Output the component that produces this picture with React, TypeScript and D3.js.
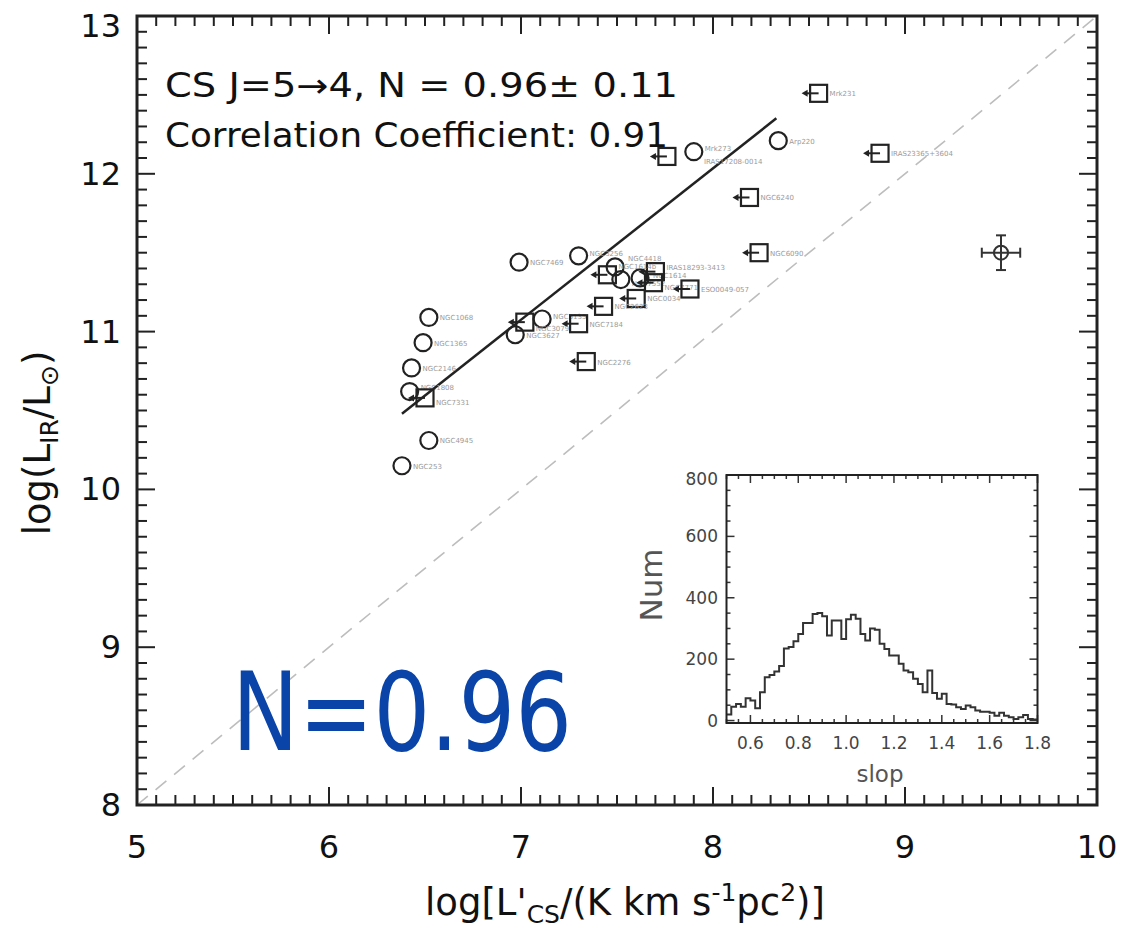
import React from "react";
import * as d3 from "d3";

// ---------------- data ----------------
const circleNames = ["NGC253", "NGC4945", "NGC1808", "NGC2146", "NGC1365", "NGC1068", "NGC7469", "NGC3256", "NGC3627", "NGC5135", "NGC4418", "NGC7552", "NGC1614", "Mrk273", "Arp220"];
const circleX = [6.38, 6.52, 6.42, 6.43, 6.49, 6.52, 6.99, 7.30, 6.97, 7.11, 7.49, 7.52, 7.62, 7.90, 8.34];
const circleY = [10.15, 10.31, 10.62, 10.77, 10.93, 11.09, 11.44, 11.48, 10.98, 11.08, 11.41, 11.33, 11.34, 12.14, 12.21];

const limitNames = ["Mrk231", "IRAS17208-0014", "IRAS23365+3604", "NGC6240", "NGC6090", "IRAS18293-3413", "NGC7771", "ESO0049-057", "NGC0034", "NGC2623", "NGC7184", "NGC3079", "NGC2276", "NGC7331", "NGC1614b"];
const limitX = [8.55, 7.76, 8.87, 8.19, 8.24, 7.70, 7.69, 7.88, 7.60, 7.43, 7.30, 7.02, 7.34, 6.50, 7.45];
const limitY = [12.51, 12.11, 12.13, 11.85, 11.50, 11.38, 11.31, 11.27, 11.21, 11.16, 11.05, 11.06, 10.81, 10.58, 11.36];

const errPointX = [9.5];
const errPointY = [11.5];
const errPointDX = [0.1];
const errPointDY = [0.11];

const fitSlope = 0.96;
const fitIntercept = 4.355;
const fitRange = [6.38, 8.33];

const xTicks = [5, 6, 7, 8, 9, 10];
const yTicks = [8, 9, 10, 11, 12, 13];

const histStart = 0.5;
const histBinWidth = 0.02;
const histCounts = [20, 45, 54, 45, 73, 65, 40, 92, 141, 148, 160, 178, 235, 240, 258, 282, 318, 318, 347, 350, 340, 277, 326, 326, 266, 330, 345, 332, 282, 261, 300, 296, 250, 233, 212, 212, 185, 163, 157, 136, 119, 92, 163, 90, 71, 87, 54, 52, 43, 38, 49, 43, 33, 29, 29, 25, 16, 25, 16, 11, 5, 11, 18, 5, 3];
const insetXTicks = [0.6, 0.8, 1.0, 1.2, 1.4, 1.6, 1.8];
const insetYTicks = [0, 200, 400, 600, 800];

// ---------------- layout ----------------
const W = 1129, H = 930;
const L = 137, R = 1097, T = 16, B = 805;
const IL = 726.5, IR = 1037.5, IT = 475, IB = 723;
const FONT = "'DejaVu Sans', 'Liberation Sans', sans-serif";
// label nudges (pixels) for crowded point labels
const labelNudge: Record<string, [number, number]> = {
  "Mrk273": [0, -4],
  "IRAS17208-0014": [26, 5],
  "NGC4418": [2, -9],
  "NGC7552": [0, 3],
  "NGC1614": [2, -3],
  "IRAS18293-3413": [0, -5],
  "NGC7771": [0, 4],
  "NGC1614b": [0, -9],
  "NGC5135": [0, -3],
  "NGC3079": [0, 6],
  "NGC1808": [0, -5],
  "NGC7331": [0, 4],
  "NGC3256": [0, -3],
};

export default function App() {
  const x = d3.scaleLinear().domain([5, 10]).range([L, R]);
  const y = d3.scaleLinear().domain([8, 13]).range([B, T]);
  const ix = d3.scaleLinear().domain([0.5, 1.8]).range([IL, IR]);
  const iy = d3.scaleLinear().domain([-8, 800]).range([IB, IT]);

  const minorX = d3.range(50, 101).map((v) => v / 10);
  const minorY = d3.range(80, 131).map((v) => v / 10);

  const histPts: [number, number][] = histCounts.map((c, i) => [histStart + i * histBinWidth, c]);
  histPts.push([histStart + histCounts.length * histBinWidth, histCounts[histCounts.length - 1]]);
  const histLine = d3.line<[number, number]>().x((d) => ix(d[0])).y((d) => iy(d[1])).curve(d3.curveStepAfter);

  const insetMinorX = d3.range(10, 37).map((v) => v / 20);
  const insetMinorY = d3.range(0, 17).map((v) => v * 50);

  const fitLine = d3.line<number>().x((d) => x(d)).y((d) => y(fitSlope * d + fitIntercept));

  const nudge = (n: string): [number, number] => labelNudge[n] || [0, 0];
  const axisColor = "#222";
  return (
    <svg width={W} height={H} style={{ position: "absolute", left: 0, top: 0, background: "#fff" }} fontFamily={FONT}>
      <rect x={0} y={0} width={W} height={H} fill="#fff" />
      {/* 1:1 dashed line */}
      <line x1={x(5)} y1={y(8)} x2={x(10)} y2={y(13)} stroke="#bdbdbd" strokeWidth={1.6} strokeDasharray="14,10" />

      {/* minor/major ticks main */}
      {minorX.map((v, i) => {
        const major = Math.abs(v - Math.round(v)) < 1e-6;
        const len = major ? 18 : 10;
        return (
          <g key={"mx" + i}>
            <line x1={x(v)} x2={x(v)} y1={B} y2={B - len} stroke={axisColor} strokeWidth={2} />
            <line x1={x(v)} x2={x(v)} y1={T} y2={T + len} stroke={axisColor} strokeWidth={2} />
          </g>
        );
      })}
      {minorY.map((v, i) => {
        const major = Math.abs(v - Math.round(v)) < 1e-6;
        const len = major ? 18 : 10;
        return (
          <g key={"my" + i}>
            <line x1={L} x2={L + len} y1={y(v)} y2={y(v)} stroke={axisColor} strokeWidth={2} />
            <line x1={R} x2={R - len} y1={y(v)} y2={y(v)} stroke={axisColor} strokeWidth={2} />
          </g>
        );
      })}
      <rect x={L} y={T} width={R - L} height={B - T} fill="none" stroke={axisColor} strokeWidth={3} />

      {/* tick labels */}
      {xTicks.map((v) => (
        <text key={"xt" + v} x={x(v)} y={858} textAnchor="middle" fontSize={32} fill="#111">{v}</text>
      ))}
      {yTicks.map((v) => (
        <text key={"yt" + v} x={121} y={v === 13 ? 37 : y(v) + 11} textAnchor="end" fontSize={32} fill="#111">{v}</text>
      ))}

      {/* axis titles */}
      <text x={625} y={915} textAnchor="middle" fontSize={37} fill="#111">
        log[L'<tspan fontSize={25} dy={8}>CS</tspan><tspan dy={-8}>/(K km s</tspan><tspan fontSize={25} dy={-14}>-1</tspan><tspan dy={14}>pc</tspan><tspan fontSize={25} dy={-14}>2</tspan><tspan dy={14}>)]</tspan>
      </text>
      <text transform={`translate(50,${443}) rotate(-90)`} textAnchor="middle" fontSize={37} fill="#111">
        log(L<tspan fontSize={25} dy={8}>IR</tspan><tspan dy={-8}>/L</tspan><tspan fontSize={25} dy={8}>⊙</tspan><tspan dy={-8}>)</tspan>
      </text>

      {/* annotation text */}
      <text x={165} y={97} fontSize={33} fill="#111" textLength={513} lengthAdjust="spacingAndGlyphs">CS J=5→4, N = 0.96± 0.11</text>
      <text x={165} y={147} fontSize={33} fill="#111" textLength={503} lengthAdjust="spacingAndGlyphs">Correlation Coefficient: 0.91</text>

      {/* fit line */}
      <path d={fitLine(fitRange) || ""} fill="none" stroke="#222" strokeWidth={2.5} />

      {/* circles */}
      {circleX.map((cx, i) => {
        const [dx, dy] = nudge(circleNames[i]);
        return (
          <g key={"c" + i}>
            <circle cx={x(cx)} cy={y(circleY[i])} r={8.5} fill="none" stroke="#222" strokeWidth={2.2} />
            <text x={x(cx) + 11 + dx} y={y(circleY[i]) + 3 + dy} fontSize={7} fill="#9a9a9a">{circleNames[i]}</text>
          </g>
        );
      })}

      {/* upper limits (squares with left arrows) */}
      {limitX.map((lx, i) => {
        const cx = x(lx), cy = y(limitY[i]);
        const [dx, dy] = nudge(limitNames[i]);
        return (
          <g key={"s" + i}>
            <rect x={cx - 8.5} y={cy - 8.5} width={17} height={17} fill="none" stroke="#222" strokeWidth={2.2} />
            <line x1={cx} y1={cy} x2={cx - 12} y2={cy} stroke="#222" strokeWidth={2} />
            <path d={`M${cx - 17},${cy} L${cx - 11},${cy - 3.5} L${cx - 11},${cy + 3.5} Z`} fill="#222" />
            <text x={cx + 11 + dx} y={cy + 3 + dy} fontSize={7} fill="#9a9a9a">{limitNames[i]}</text>
          </g>
        );
      })}

      {/* point with error bars */}
      {errPointX.map((ex, i) => {
        const cx = x(ex), cy = y(errPointY[i]);
        const x0 = x(ex - errPointDX[i]), x1 = x(ex + errPointDX[i]);
        const y0 = y(errPointY[i] - errPointDY[i]), y1 = y(errPointY[i] + errPointDY[i]);
        return (
          <g key={"e" + i} stroke="#333" strokeWidth={2}>
            <circle cx={cx} cy={cy} r={7} fill="none" />
            <line x1={x0} x2={x1} y1={cy} y2={cy} />
            <line x1={cx} x2={cx} y1={y0} y2={y1} />
            <line x1={x0} x2={x0} y1={cy - 5} y2={cy + 5} />
            <line x1={x1} x2={x1} y1={cy - 5} y2={cy + 5} />
            <line x1={cx - 5} x2={cx + 5} y1={y0} y2={y0} />
            <line x1={cx - 5} x2={cx + 5} y1={y1} y2={y1} />
          </g>
        );
      })}

      {/* N=0.96 big label */}
      <text x={232} y={750} fontSize={108} fill="#0a44a8" textLength={340} lengthAdjust="spacingAndGlyphs">N=0.96</text>

      {/* inset */}
      <rect x={IL} y={IT} width={IR - IL} height={IB - IT} fill="#fff" />
      {insetMinorX.map((v, i) => {
        const major = Math.abs(v * 5 - Math.round(v * 5)) < 1e-6;
        const len = major ? 8 : 4;
        return (
          <g key={"ix" + i}>
            <line x1={ix(v)} x2={ix(v)} y1={IB} y2={IB - len} stroke="#333" strokeWidth={1.5} />
            <line x1={ix(v)} x2={ix(v)} y1={IT} y2={IT + len} stroke="#333" strokeWidth={1.5} />
          </g>
        );
      })}
      {insetMinorY.map((v, i) => {
        const major = v % 200 === 0;
        const len = major ? 8 : 4;
        return (
          <g key={"iy" + i}>
            <line x1={IL} x2={IL + len} y1={iy(v)} y2={iy(v)} stroke="#333" strokeWidth={1.5} />
            <line x1={IR} x2={IR - len} y1={iy(v)} y2={iy(v)} stroke="#333" strokeWidth={1.5} />
          </g>
        );
      })}
      <path d={histLine(histPts) || ""} fill="none" stroke="#333" strokeWidth={2} />
      <rect x={IL} y={IT} width={IR - IL} height={IB - IT} fill="none" stroke="#222" strokeWidth={2} />
      {insetXTicks.map((v) => (
        <text key={"ixt" + v} x={ix(v)} y={749} textAnchor="middle" fontSize={17} fill="#444">{v.toFixed(1)}</text>
      ))}
      {insetYTicks.map((v) => (
        <text key={"iyt" + v} x={718} y={v === 800 ? iy(v) + 10 : iy(v) + 6} textAnchor="end" fontSize={17} fill="#444">{v}</text>
      ))}
      <text x={880} y={782} textAnchor="middle" fontSize={23} fill="#555">slop</text>
      <text transform={`translate(662,585) rotate(-90)`} textAnchor="middle" fontSize={31} fill="#555">Num</text>
    </svg>
  );
}
